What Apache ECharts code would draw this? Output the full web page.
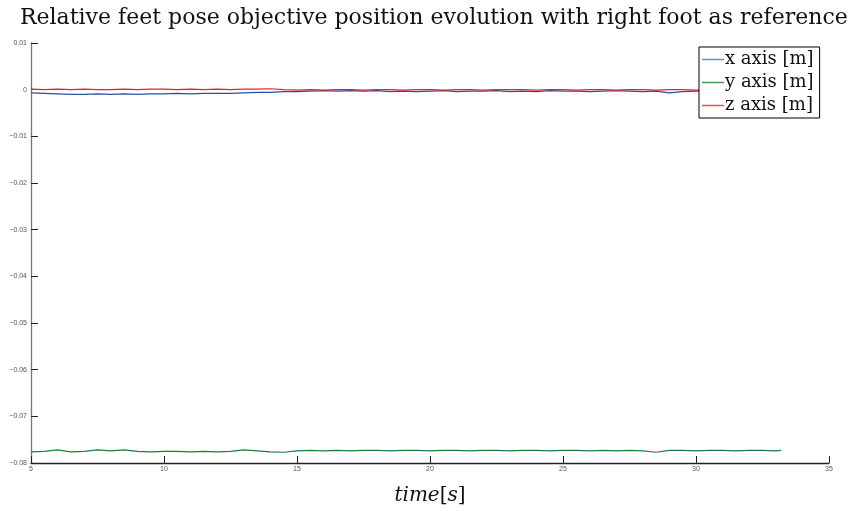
<!DOCTYPE html>
<html><head><meta charset="utf-8">
<script src="https://cdn.jsdelivr.net/npm/echarts@6/dist/echarts.min.js"></script>
<style>html,body{margin:0;padding:0;background:#fff}#c{width:858px;height:511px}</style>
</head><body><div id="c"></div>
<script>
const titleText = "Relative feet pose objective position evolution with right foot as reference";
const seriesNames = ["x axis [m]", "y axis [m]", "z axis [m]"];
const xTicks = [5, 10, 15, 20, 25, 30, 35];
const yTicks = [0.01, 0, -0.01, -0.02, -0.03, -0.04, -0.05, -0.06, -0.07, -0.08];
const time = [5,5.5,6,6.5,7,7.5,8,8.5,9,9.5,10,10.5,11,11.5,12,12.5,13,13.5,14,14.5,15,15.5,16,16.5,17,17.5,18,18.5,19,19.5,20,20.5,21,21.5,22,22.5,23,23.5,24,24.5,25,25.5,26,26.5,27,27.5,28,28.5,29,29.5,30,30.5,31,31.5,32,32.5,33,33.2];
const xAxisVals = [-0.0007,-0.0008,-0.0009,-0.0010,-0.0010,-0.0009,-0.0010,-0.0009,-0.0010,-0.0009,-0.0009,-0.0008,-0.0009,-0.0008,-0.0008,-0.0008,-0.0007,-0.0006,-0.0006,-0.0004,-0.0004,-0.0003,-0.0002,-0.0003,-0.0002,-0.0003,-0.0002,-0.0004,-0.0003,-0.0004,-0.0003,-0.0002,-0.0004,-0.0003,-0.0003,-0.0002,-0.0004,-0.0003,-0.0004,-0.0002,-0.0003,-0.0003,-0.0004,-0.0003,-0.0002,-0.0003,-0.0004,-0.0003,-0.0007,-0.0004,-0.0003,-0.0003,-0.0004,-0.0003,-0.0003,-0.0004,-0.0003,-0.0003];
const yAxisVals = [-0.0776,-0.0775,-0.0772,-0.0776,-0.0775,-0.0772,-0.0774,-0.0772,-0.0775,-0.0776,-0.0775,-0.0775,-0.0776,-0.0775,-0.0776,-0.0775,-0.0772,-0.0774,-0.0776,-0.0777,-0.0774,-0.0773,-0.0774,-0.0773,-0.0774,-0.0773,-0.0773,-0.0774,-0.0773,-0.0773,-0.0774,-0.0773,-0.0773,-0.0774,-0.0773,-0.0773,-0.0774,-0.0773,-0.0773,-0.0774,-0.0773,-0.0773,-0.0774,-0.0773,-0.0774,-0.0773,-0.0774,-0.0777,-0.0773,-0.0773,-0.0774,-0.0773,-0.0773,-0.0774,-0.0773,-0.0773,-0.0774,-0.0773];
const zAxisVals = [0.0001,0.0000,0.0001,0.0000,0.0001,0.0000,0.0000,0.0001,0.0000,0.0001,0.0001,0.0000,0.0001,0.0000,0.0001,0.0000,0.0001,0.0001,0.0002,0.0000,-0.0001,0.0000,-0.0001,0.0000,0.0000,-0.0001,0.0000,0.0000,-0.0001,0.0000,0.0000,-0.0001,0.0000,0.0000,-0.0001,0.0000,0.0000,0.0000,-0.0001,0.0000,0.0000,-0.0001,0.0000,0.0000,-0.0001,0.0000,0.0000,-0.0001,0.0000,0.0000,-0.0001,0.0000,0.0000,0.0000,-0.0001,0.0000,0.0000,0.0000];
const colors = ["#2a4ea6", "#17803c", "#e8202a"];
const legendColors = ["#6d88c8", "#3f9a5e", "#ee4a50"];

const pair = (xs, ys) => xs.map((x, i) => [x, ys[i]]);
const fmtY = v => { const r = Math.round(v * 100) / 100; if (r === 0) return "0"; return r < 0 ? "\u2212" + Math.abs(r).toString() : r.toString(); };

const chart = echarts.init(document.getElementById('c'), null, {renderer: 'canvas'});
chart.setOption({
  animation: false,
  backgroundColor: '#fff',
  title: {
    text: titleText, left: 15, top: 2,
    textStyle: {fontFamily: 'DejaVu Serif', fontWeight: 'normal', fontSize: 22, color: '#111'}
  },
  grid: {left: 31, right: 29, top: 43, bottom: 36, containLabel: false},
  legend: {
    orient: 'vertical', left: 699, top: 47,
    data: seriesNames.map((n, i) => ({name: n, icon: 'path://M0,0H22V1.5H0Z', itemStyle: {color: legendColors[i], borderWidth: 0, opacity: 1}})),
    itemWidth: 22, itemHeight: 1.5, itemGap: 0,
    backgroundColor: '#fff', borderColor: '#000', borderWidth: 1,
    padding: [1, 6, 1, 3],
    textStyle: {fontFamily: 'DejaVu Serif', fontSize: 18, color: '#111', lineHeight: 23, padding: [0, 0, 0, -4]}
  },
  xAxis: {
    type: 'value', min: 5, max: 35, interval: 5,
    name: '{i|time}{n|[}{i|s}{n|]}', nameLocation: 'middle', nameGap: 23,
    nameTextStyle: {rich: {
      i: {fontFamily: 'DejaVu Serif', fontStyle: 'italic', fontSize: 20, color: '#111'},
      n: {fontFamily: 'DejaVu Serif', fontSize: 20, color: '#111'}
    }},
    axisLine: {show: true, onZero: false, lineStyle: {color: '#222', width: 1.3}},
    axisTick: {show: true, inside: true, length: 7, lineStyle: {color: '#222'}},
    axisLabel: {fontFamily: 'Liberation Sans', fontSize: 7, color: '#555', margin: 3,
      formatter: v => xTicks.includes(v) ? String(v) : ''},
    splitLine: {show: false}
  },
  yAxis: {
    type: 'value', min: -0.08, max: 0.01, interval: 0.01,
    axisLine: {show: true, onZero: false, lineStyle: {color: '#777', width: 1.3}},
    axisTick: {show: true, inside: true, length: 7, lineStyle: {color: '#222'}},
    axisLabel: {fontFamily: 'Liberation Sans', fontSize: 7, color: '#555', margin: 4,
      formatter: v => yTicks.some(t => Math.abs(t - v) < 1e-9) ? fmtY(v) : ''},
    splitLine: {show: false}
  },
  series: [
    {name: seriesNames[0], type: 'line', data: pair(time, xAxisVals), showSymbol: false, color: colors[0], itemStyle: {color: colors[0]}, lineStyle: {width: 1.2, color: colors[0]}, z: 2},
    {name: seriesNames[1], type: 'line', data: pair(time, yAxisVals), showSymbol: false, color: colors[1], itemStyle: {color: colors[1]}, lineStyle: {width: 1.2, color: colors[1]}, z: 2},
    {name: seriesNames[2], type: 'line', data: pair(time, zAxisVals), showSymbol: false, color: colors[2], itemStyle: {color: colors[2]}, lineStyle: {width: 1.2, color: colors[2]}, z: 3}
  ]
});
</script></body></html>
